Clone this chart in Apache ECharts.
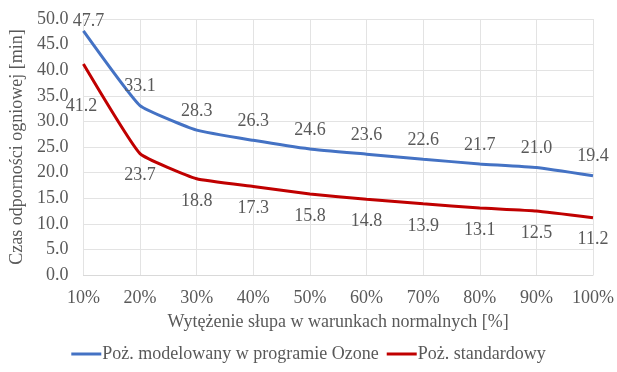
<!DOCTYPE html>
<html>
<head>
<meta charset="utf-8">
<script src="https://cdn.jsdelivr.net/npm/echarts@6/dist/echarts.min.js"></script>
<style>
  html, body { margin: 0; padding: 0; background: #fff; }
  #chart { width: 617px; height: 372px; }
</style>
</head>
<body>
<div id="chart"></div>
<script>
// Load level of the column (x axis)
const categories = ['10%', '20%', '30%', '40%', '50%', '60%', '70%', '80%', '90%', '100%'];
// Fire resistance time [min]
const ozoneValues = [47.7, 33.1, 28.3, 26.3, 24.6, 23.6, 22.6, 21.7, 21.0, 19.4];
const standardValues = [41.2, 23.7, 18.8, 17.3, 15.8, 14.8, 13.9, 13.1, 12.5, 11.2];
const seriesNames = ['Poż. modelowany w programie Ozone', 'Poż. standardowy'];

const font = 'Liberation Serif, Times New Roman, serif';
const textColor = '#595959';
const fontSize = 18;

// The first label of each curve is nudged so it stays clear of the axis labels
const withFirstLabelOffset = (values, offset) =>
  values.map((v, i) => (i === 0 ? { value: v, label: { offset: offset } } : v));

const chart = echarts.init(document.getElementById('chart'));
chart.setOption({
  animation: false,
  textStyle: { fontFamily: font },
  grid: { left: 77, right: 22, top: 19, bottom: 97 },
  legend: {
    bottom: 4,
    left: 'center',
    itemWidth: 30,
    itemHeight: 3,
    itemGap: 8,
    icon: 'rect',
    textStyle: { fontFamily: font, fontSize: fontSize, color: textColor, padding: [0, 0, 0, -4] },
    data: seriesNames
  },
  xAxis: {
    type: 'category',
    data: categories,
    boundaryGap: false,
    name: 'Wytężenie słupa w warunkach normalnych [%]',
    nameLocation: 'middle',
    nameGap: 38,
    nameTextStyle: { fontFamily: font, fontSize: fontSize, color: textColor },
    axisLine: { lineStyle: { color: '#d9d9d9' } },
    axisTick: { show: false },
    axisLabel: { fontFamily: font, fontSize: fontSize, color: textColor, margin: 14 },
    splitLine: { show: true, lineStyle: { color: '#e3e3e3' } }
  },
  yAxis: {
    type: 'value',
    min: 0,
    max: 50,
    interval: 5,
    name: 'Czas odporności ogniowej [min]',
    nameLocation: 'middle',
    nameGap: 55,
    nameTextStyle: { fontFamily: font, fontSize: fontSize, color: textColor },
    axisLine: { show: false },
    axisTick: { show: false },
    axisLabel: {
      fontFamily: font, fontSize: fontSize, color: textColor, margin: 15,
      formatter: v => v.toFixed(1)
    },
    splitLine: { lineStyle: { color: '#e3e3e3' } }
  },
  series: [
    {
      name: seriesNames[0],
      type: 'line',
      data: withFirstLabelOffset(ozoneValues, [5, 10]),
      symbol: 'circle',
      symbolSize: 0.1,
      showSymbol: true,
      smooth: 0.12,
      color: '#4472C4',
      lineStyle: { width: 3, color: '#4472C4' },
      label: {
        show: true,
        position: 'top',
        distance: 10,
        fontFamily: font,
        fontSize: fontSize,
        color: textColor,
        formatter: p => p.value.toFixed(1)
      },
      z: 3
    },
    {
      name: seriesNames[1],
      type: 'line',
      data: withFirstLabelOffset(standardValues, [-2, 20]),
      symbol: 'circle',
      symbolSize: 0.1,
      showSymbol: true,
      smooth: 0.12,
      color: '#C00000',
      lineStyle: { width: 3, color: '#C00000' },
      label: {
        show: true,
        position: 'bottom',
        distance: 13,
        fontFamily: font,
        fontSize: fontSize,
        color: textColor,
        formatter: p => p.value.toFixed(1)
      },
      z: 2
    }
  ]
});
</script>
</body>
</html>
